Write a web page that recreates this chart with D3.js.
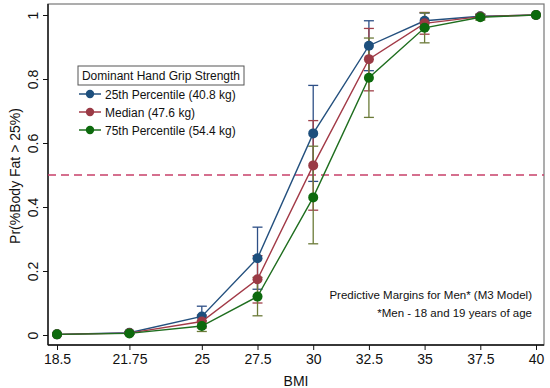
<!DOCTYPE html>
<html><head><meta charset="utf-8">
<script src="https://cdn.jsdelivr.net/npm/d3@7"></script>
<style>body{margin:0;background:#fff}svg{display:block}text{font-family:"Liberation Sans",Arial,Helvetica,sans-serif}</style>
</head><body><svg id="c" width="550" height="388"></svg>
<script>
const bmi = [18.5, 21.75, 25, 27.5, 30, 32.5, 35, 37.5, 40];
const xTickLabels = ["18.5", "21.75", "25", "27.5", "30", "32.5", "35", "37.5", "40"];
const yTicks = [0, 0.2, 0.4, 0.6, 0.8, 1];
const seriesNames = ["25th Percentile (40.8 kg)", "Median (47.6 kg)", "75th Percentile (54.4 kg)"];
const p25 = [0.002, 0.007, 0.058, 0.24, 0.63, 0.904, 0.982, 0.996, 1.0];
const p25Lo = [0.000, 0.003, 0.027, 0.143, 0.48, 0.826, 0.958, 0.990, 0.999];
const p25Hi = [0.004, 0.011, 0.090, 0.337, 0.78, 0.982, 1.006, 1.002, 1.001];
const p50 = [0.002, 0.006, 0.042, 0.174, 0.53, 0.862, 0.974, 0.995, 1.0];
const p50Lo = [0.000, 0.003, 0.022, 0.100, 0.39, 0.763, 0.940, 0.988, 0.999];
const p50Hi = [0.004, 0.009, 0.062, 0.248, 0.67, 0.958, 1.008, 1.002, 1.001];
const p75 = [0.002, 0.005, 0.028, 0.12, 0.43, 0.804, 0.960, 0.993, 1.0];
const p75Lo = [0.000, 0.002, 0.011, 0.060, 0.285, 0.680, 0.913, 0.984, 0.999];
const p75Hi = [0.004, 0.008, 0.045, 0.180, 0.59, 0.928, 1.007, 1.002, 1.001];
const refLine = 0.5;
const legendTitle = "Dominant Hand Grip Strength";
const note1 = "Predictive Margins for Men* (M3 Model)";
const note2 = "*Men - 18 and 19 years of age";

const lineColors = ["#24507e", "#a23a47", "#1f6e1f"];
const markColors = ["#1d4f7d", "#9a3a45", "#0d6a0d"];
const ciColors = ["#2d4f86", "#a0404a", "#6b7a38"];

const svg = d3.select("#c");
const x = d3.scaleLinear().domain([18.5, 40]).range([57, 536]);
const y = d3.scaleLinear().domain([0, 1]).range([335, 15]);
const L = 48, R = 544, T = 4, B = 345;

// frame
svg.append("rect").attr("x", L).attr("y", T).attr("width", R - L).attr("height", B - T)
  .attr("fill", "#fff").attr("stroke", "#777").attr("stroke-width", 1.2);

// axes
const xa = svg.append("g").attr("transform", `translate(0,${B})`)
  .call(d3.axisBottom(x).tickValues(bmi).tickFormat((d, i) => xTickLabels[i]).tickSize(5).tickPadding(4));
const ya = svg.append("g").attr("transform", `translate(${L},0)`)
  .call(d3.axisLeft(y).tickValues(yTicks).tickFormat(d => d === 0 ? "0" : d === 1 ? "1" : d3.format(".1f")(d)).tickSize(5).tickPadding(4));
[xa, ya].forEach(a => {
  a.select(".domain").attr("stroke", "#111").attr("stroke-width", 1.4);
  a.selectAll(".tick line").attr("stroke", "#111").attr("stroke-width", 1);
  a.selectAll("text").attr("fill", "#111").style("font-size", "14px");
});
xa.select(".domain").attr("d", `M${L},0H${R}`);
ya.select(".domain").attr("d", `M0,${T}V${B}`);
ya.selectAll(".tick text").attr("transform", "rotate(-90)").attr("text-anchor", "middle")
  .attr("x", 0).attr("dy", "0").attr("y", -10);

svg.append("text").attr("x", 296).attr("y", 386).attr("text-anchor", "middle")
  .style("font-size", "14px").attr("fill", "#111").text("BMI");
svg.append("text").attr("transform", "translate(20,176) rotate(-90)").attr("text-anchor", "middle")
  .style("font-size", "14px").attr("fill", "#111").text("Pr(%Body Fat > 25%)");

// reference line
svg.append("line").attr("x1", L).attr("x2", R).attr("y1", y(refLine)).attr("y2", y(refLine))
  .attr("stroke", "#c8406a").attr("stroke-width", 1.3).attr("stroke-dasharray", "8,5");

const series = [
  {v: p25, lo: p25Lo, hi: p25Hi},
  {v: p50, lo: p50Lo, hi: p50Hi},
  {v: p75, lo: p75Lo, hi: p75Hi}
];

// CIs
series.forEach((s, k) => {
  const g = svg.append("g").attr("stroke", ciColors[k]).attr("stroke-width", 1.3);
  bmi.forEach((b, i) => {
    const cx = x(b);
    g.append("line").attr("x1", cx).attr("x2", cx).attr("y1", y(s.lo[i])).attr("y2", y(s.hi[i]));
    g.append("line").attr("x1", cx - 5).attr("x2", cx + 5).attr("y1", y(s.lo[i])).attr("y2", y(s.lo[i]));
    g.append("line").attr("x1", cx - 5).attr("x2", cx + 5).attr("y1", y(s.hi[i])).attr("y2", y(s.hi[i]));
  });
});

// lines + markers
const line = d3.line().x((d, i) => x(bmi[i])).y(d => y(d));
series.forEach((s, k) => {
  svg.append("path").attr("d", line(s.v)).attr("fill", "none")
    .attr("stroke", lineColors[k]).attr("stroke-width", 1.4);
  svg.append("g").selectAll("circle").data(s.v).join("circle")
    .attr("cx", (d, i) => x(bmi[i])).attr("cy", d => y(d)).attr("r", 5)
    .attr("fill", markColors[k]);
});

// legend
svg.append("rect").attr("x", 78).attr("y", 66).attr("width", 166).attr("height", 19)
  .attr("fill", "#fff").attr("stroke", "#555").attr("stroke-width", 1);
svg.append("text").attr("x", 161).attr("y", 80).attr("text-anchor", "middle")
  .style("font-size", "12px").attr("fill", "#111").text(legendTitle);
seriesNames.forEach((n, k) => {
  const yy = 94 + k * 18;
  svg.append("line").attr("x1", 79).attr("x2", 101).attr("y1", yy).attr("y2", yy)
    .attr("stroke", lineColors[k]).attr("stroke-width", 1.5);
  svg.append("circle").attr("cx", 90).attr("cy", yy).attr("r", 4.2).attr("fill", markColors[k]);
  svg.append("text").attr("x", 105).attr("y", yy + 4.5).style("font-size", "12px")
    .attr("fill", "#111").text(n);
});

// notes
svg.append("text").attr("x", 532).attr("y", 299).attr("text-anchor", "end")
  .style("font-size", "11.5px").attr("fill", "#111").text(note1);
svg.append("text").attr("x", 532).attr("y", 317).attr("text-anchor", "end")
  .style("font-size", "11.5px").attr("fill", "#111").text(note2);
</script></body></html>
